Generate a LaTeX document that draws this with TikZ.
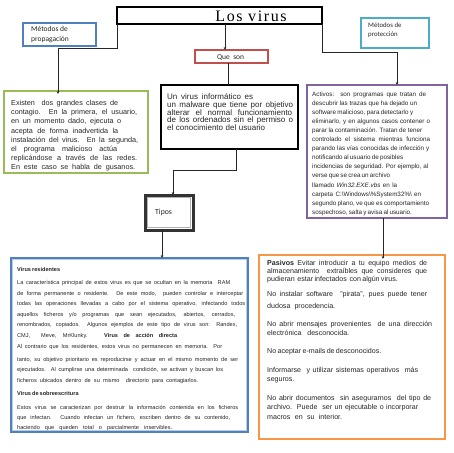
\documentclass[tikz,border=0pt]{standalone}
\usepackage{fontspec}
\setmainfont{Liberation Sans}
\newfontfamily\serifT{Liberation Serif}[LetterSpace=10]
\newfontfamily\cali{Carlito}
\usetikzlibrary{arrows.meta}
\definecolor{cblue}{HTML}{4F81BD}
\definecolor{cteal}{HTML}{4BACC6}
\definecolor{cred}{HTML}{C0504D}
\definecolor{cgreen}{HTML}{9BBB59}
\definecolor{cpurple}{HTML}{8064A2}
\definecolor{corange}{HTML}{F79646}
\definecolor{clblue}{HTML}{B9CDE5}
\newcommand{\J}[2]{\makebox[#1pt][s]{#2}}
\hbadness=10000 \hfuzz=50pt
\tikzset{
  boxx/.style={draw, anchor=north west, inner sep=0pt, outer sep=0pt},
  ln/.style={anchor=west, inner sep=0pt, text height=0.72em, text depth=0.22em, text=black!85},
  gt/.style={ln, font=\fontsize{7.25}{8}\selectfont},
  ct/.style={ln, font=\fontsize{8}{8}\selectfont},
  pt/.style={ln, font=\fontsize{6.3}{7}\selectfont},
  ot/.style={ln, font=\fontsize{7.1}{7}\selectfont},
  bt/.style={ln, font=\fontsize{5.6}{6}\selectfont},
  lab/.style={ln, font=\cali\fontsize{7.5}{8}\selectfont},
  conn/.style={draw=black!85, line width=0.7pt},
  arr/.style={conn, -{Stealth[length=3pt,width=2.6pt]}},
}
\begin{document}
\begin{tikzpicture}[x=1pt,y=-1pt]
\useasboundingbox (0,0) rectangle (453,453);
\fill[white] (0,0) rectangle (453,453);

% boxes
\node[boxx, line width=1.5pt, minimum width=205pt, minimum height=17pt] (title) at (117,7) {};
\node[boxx, draw=cblue, line width=1.1pt, minimum width=73pt, minimum height=23pt] (prop) at (23,23) {};
\node[boxx, draw=cteal, line width=1.1pt, minimum width=68pt, minimum height=30pt] (prot) at (361,18) {};
\node[boxx, draw=cred, line width=1.1pt, minimum width=73pt, minimum height=13pt] (qs) at (195,50) {};
\node[boxx, draw=cgreen, line width=1.5pt, minimum width=144pt, minimum height=82pt] (green) at (4,91) {};
\node[boxx, line width=2pt, minimum width=137pt, minimum height=64pt] (center) at (161,85) {};
\node[boxx, draw=cpurple, line width=1.4pt, minimum width=140pt, minimum height=133pt] (purple) at (307,85) {};
\node[boxx, draw=black!80, line width=3pt, minimum width=48pt, minimum height=35pt] (tipos) at (145,195) {};
\draw[gray!60, line width=1pt] ([shift={(2.5,2.5)}]tipos.north west) rectangle ([shift={(-2.5,-2.5)}]tipos.south east);
\node[boxx, draw=cblue, line width=1.8pt, minimum width=237pt, minimum height=174pt] (bl) at (11,258) {};
\draw[clblue, line width=0.8pt] ([shift={(1.8,1.8)}]bl.north west) rectangle ([shift={(-1.8,-1.8)}]bl.south east);
\node[boxx, draw=corange, line width=1.8pt, minimum width=186pt, minimum height=184pt] (orange) at (259,255) {};

% title and labels
\node[inner sep=0pt, font=\serifT\fontsize{16}{16}\selectfont] (titletext) at (251,16) {Los virus};
\node[lab] (propa) at (31,29) {Métodos de};
\node[lab] (propb) at (31,39) {propagación};
\node[lab, font=\cali\fontsize{6.8}{8}\selectfont] (prota) at (368,25) {Métodos de};
\node[lab, font=\cali\fontsize{6.8}{8}\selectfont] (protb) at (368,34) {protección};
\node[lab, font=\cali\fontsize{7.5}{8}\selectfont] (qstext) at (217,57) {Que\ \ son};
\node[lab, font=\cali\fontsize{7.8}{8}\selectfont] (tipostext) at (155,212) {Tipos};

% green text
\foreach \t/\w [count=\i] in {{Existen\ \ dos grandes clases de}/107,{contagio. En la primera, el usuario,}/126,{en un momento dado, ejecuta o}/110,{acepta de forma inadvertida la}/107,{instalación del virus. En la segunda,}/127,{el programa malicioso actúa}/106,{replicándose a través de las redes.}/126,{En este caso se habla de gusanos.}/124}
  \node[gt] (g\i) at (11,{103+9.2*(\i-1)}) {\J{\w}{\t}};

% center text
\foreach \t/\w [count=\i] in {{Un virus informático es}/86,{un malware que tiene por objetivo}/126,{alterar el normal funcionamiento}/125,{de los ordenados sin el permiso o}/126,{el conocimiento del usuario}/98}
  \node[ct] (c\i) at (167,{97+7.8*(\i-1)}) {\J{\w}{\t}};

% purple text
\foreach \t/\w [count=\i] in {{Activos:\ \ son programas que tratan de}/114,{descubrir las trazas que ha dejado un}/105,{software malicioso, para detectarlo y}/101,{eliminarlo, y en algunos casos contener o}/118,{parar la contaminación. Tratan de tener}/110,{controlado el sistema mientras funciona}/118,{parando las vías conocidas de infección y}/117,{notificando al usuario de posibles}/91,{incidencias de seguridad. Por ejemplo, al}/116,{verse que se crea un archivo}/71,{llamado \textit{Win32.EXE.vbs} en la}/85,{carpeta C:\textbackslash Windows\textbackslash\%System32\%\textbackslash\ en}/109,{segundo plano, ve que es comportamiento}/117,{sospechoso, salta y avisa al usuario.}/81}
  \node[pt] (p\i) at (312,{94+9.05*(\i-1)}) {\J{\w}{\t}};

% orange text
\foreach \t/\w/\yy [count=\i] in {{\textbf{Pasivos} Evitar introducir a tu equipo medios de}/160/263,{almacenamiento\ \ extraíbles que consideres que}/160/271,{pudieran\ \ estar infectados\ \ con algún virus.}/126/279,{No instalar software\ \ "pirata", pues puede tener}/160/294,{dudosa procedencia.}/68/306,{No abrir mensajes provenientes\ \ de una dirección}/165/324,{electrónica desconocida.}/82/333,{No aceptar e-mails de desconocidos.}/114/351,{Informarse\ \ y utilizar sistemas operativos\ \ más}/151/370,{seguros.}/30/379,{No abrir documentos\ \ sin asegurarnos\ \ del tipo de}/164/398,{archivo.\ \ Puede\ \ ser un ejecutable o incorporar}/151/407,{macros en su interior.}/75/417}
  \node[ot] (o\i) at (267,\yy) {\J{\w}{\t}};

% bottom-left text
\foreach \t/\w/\yy [count=\i] in {{\textbf{Virus residentes}}/10/269,{La característica principal de estos virus es que se ocultan en la memoria\ \ RAM}/213/282,{de forma permanente o residente. De este modo,\ \ pueden controlar e interceptar}/226/293,{todas las operaciones llevadas a cabo por el sistema operativo, infectando todos}/228/303,{aquellos ficheros y/o programas que sean ejecutados, abiertos, cerrados,}/218/314,{renombrados, copiados.\ \ Algunos ejemplos de este tipo de virus son: Randex,}/220/324,{CMJ,\ \ Meve, MrKlunky.\qquad\ \textbf{Virus de acción directa}}/160/335,{Al contrario que los residentes, estos virus no permanecen en memoria.\ \ Por}/205/346,{tanto, su objetivo prioritario es reproducirse y actuar en el mismo momento de ser}/221/359,{ejecutados.\ \ Al cumplirse una determinada\ \ condición, se activan y buscan los}/206/369,{ficheros ubicados dentro de su mismo\ \ directorio para contagiarlos.}/181/380,{\textbf{Virus de sobreescritura}}/10/393,{Estos virus se caracterizan por destruir la información contenida en los ficheros}/221/407,{que infectan. Cuando infectan un fichero, escriben dentro de su contenido,}/213/417,{haciendo que queden total o parcialmente inservibles.}/155/427}
  \node[bt] (b\i) at (17,\yy) {\J{\w}{\t}};

% connectors
\coordinate (k1) at (58,48);
\draw[arr] (title.south west) |- (k1) -- ([yshift=-3pt]green.north -| k1);
\coordinate (k2) at (225,24);
\draw[arr] (k2) -- (qs.north -| k2);
\coordinate (k3) at (228,63);
\draw[conn] (k3) -- (center.north -| k3);
\coordinate (k4) at (397,52);
\draw[arr] (title.south east) |- (k4) -- (purple.north -| k4);
\coordinate (k5) at (236,170);
\coordinate (k6) at (173,170);
\draw[arr] (center.south -| k5) -- (k5) -- (k6) -- (tipos.north -| k6);
\coordinate (k7) at (162,230);
\draw[arr] (k7) -- (bl.north -| k7);
\coordinate (k8) at (383,218);
\draw[arr] (k8) -- ([yshift=-4pt]orange.north -| k8);
\end{tikzpicture}
\end{document}
